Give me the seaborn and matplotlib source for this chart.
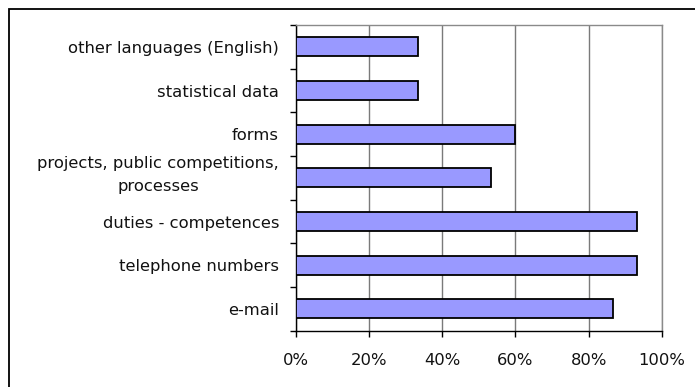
import matplotlib
matplotlib.use("Agg")
import matplotlib.pyplot as plt
from matplotlib.patches import Rectangle
from matplotlib.ticker import FixedLocator, PercentFormatter
from matplotlib.transforms import ScaledTranslation
import numpy as np
import pandas as pd
import seaborn as sns

# Share of sites offering each kind of content (top to bottom)
categories = [
    "other languages (English)",
    "statistical data",
    "forms",
    "projects, public competitions,\nprocesses",
    "duties - competences",
    "telephone numbers",
    "e-mail",
]
shares = [33.3, 33.3, 60.0, 53.3, 93.3, 93.3, 86.7]
x_ticks = [0, 20, 40, 60, 80, 100]

df = pd.DataFrame({"item": categories, "share": shares})

sns.set_theme(style="white")
plt.rcParams["font.family"] = ["DejaVu Sans"]

fig = plt.figure(figsize=(6.95, 3.87), dpi=100)
ax = fig.add_axes([295.7 / 695, 1 - 330.7 / 387, (662 - 295.7) / 695, (330.7 - 25) / 387])

sns.barplot(data=df, y="item", x="share", orient="h", order=categories,
            color="#9999FF", saturation=1, width=0.43,
            edgecolor="black", linewidth=1.3, ax=ax, zorder=3)

ax.set_xlim(0, 100)
ax.set_ylim(len(categories) - 0.5, -0.5)
ax.set_xlabel("")
ax.set_ylabel("")

# vertical gridlines
ax.xaxis.set_major_locator(FixedLocator(x_ticks))
ax.xaxis.set_major_formatter(PercentFormatter(decimals=0))
ax.grid(axis="x", color="#7a7a7a", linewidth=1.0, zorder=0)
ax.grid(axis="y", visible=False)

# frame: black axes on left/bottom, grey on top/right
for side in ("left", "bottom"):
    ax.spines[side].set_color("black")
    ax.spines[side].set_linewidth(1.0)
for side in ("top", "right"):
    ax.spines[side].set_color("#8a8a8a")
    ax.spines[side].set_linewidth(1.0)

# category tick marks sit between the bars
ax.yaxis.set_minor_locator(FixedLocator(np.arange(-0.5, len(categories), 1.0)))
ax.tick_params(axis="y", which="minor", left=True, length=4, width=1, color="black")
ax.tick_params(axis="y", which="major", left=True, length=0, pad=12, labelsize=11.8,
               labelcolor="#111111")
ax.tick_params(axis="x", which="major", bottom=True, length=4, width=1, color="black",
               pad=12, labelsize=11.8, labelcolor="#111111")
for lbl in ax.get_yticklabels():
    if "\n" in lbl.get_text():
        lbl.set_multialignment("center")
        lbl.set_linespacing(1.65)
        lbl.set_verticalalignment("center")
        lbl.set_transform(lbl.get_transform()
                          + ScaledTranslation(0, 3 / 100, fig.dpi_scale_trans))

# outer chart border
fig.patches.append(Rectangle((9 / 695, -0.05), 1.1, 1 - 9 / 387 + 0.05,
                             transform=fig.transFigure, fill=False,
                             edgecolor="black", linewidth=1.3))

fig.savefig("out.png", dpi=100)
